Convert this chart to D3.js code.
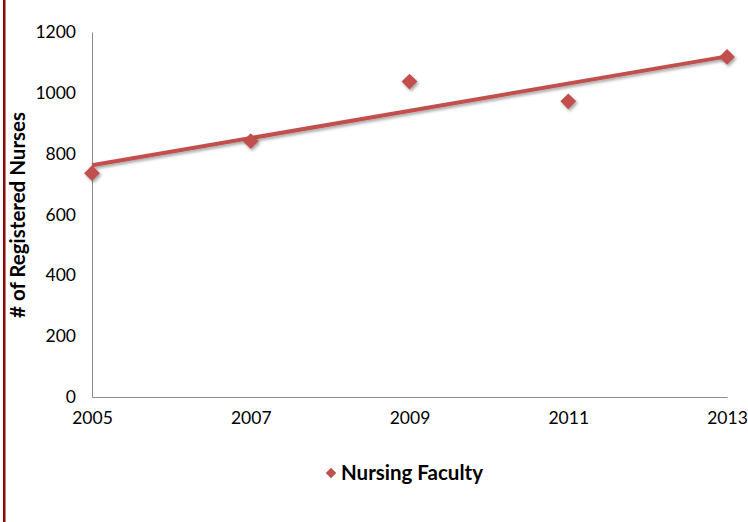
<!DOCTYPE html>
<html><head><meta charset="utf-8">
<script src="https://cdn.jsdelivr.net/npm/d3@7"></script>
<style>body{margin:0;background:#fff;} text{font-family:"Lato","Open Sans",sans-serif;}</style>
</head><body>
<svg id="c" width="748" height="522"></svg>
<script>
const years = [2005, 2007, 2009, 2011, 2013];
const nurses = [736, 841, 1037, 972, 1118];
const yTicks = [0, 200, 400, 600, 800, 1000, 1200];
const xTicks = [2005, 2007, 2009, 2011, 2013];
const seriesName = "Nursing Faculty";
const yTitle = "# of Registered Nurses";

const svg = d3.select("#c");
const color = "#C0504D";
const x = d3.scaleLinear().domain([2005, 2013]).range([92, 727]);
const y = d3.scaleLinear().domain([0, 1200]).range([397, 32]);

// left border
svg.append("rect").attr("x", 3).attr("y", 0).attr("width", 2.5).attr("height", 522).attr("fill", "#8B0A0A");

const defs = svg.append("defs");
const f = defs.append("filter").attr("id", "sh").attr("x", "-50%").attr("y", "-50%").attr("width", "200%").attr("height", "200%");
f.append("feDropShadow").attr("dx", 1.5).attr("dy", 2).attr("stdDeviation", 1.5).attr("flood-color", "#000").attr("flood-opacity", 0.35);

// axes
const yAxis = svg.append("g").attr("transform", "translate(92,0)")
  .call(d3.axisLeft(y).tickValues(yTicks).tickSize(0).tickPadding(16).tickFormat(d3.format("d")));
yAxis.select(".domain").attr("stroke", "#8c8c8c");
yAxis.selectAll("text").attr("font-size", 17.5).attr("fill", "#000");

const xAxis = svg.append("g").attr("transform", "translate(0,397)")
  .call(d3.axisBottom(x).tickValues(xTicks).tickSize(0).tickPadding(15).tickFormat(d3.format("d")));
xAxis.select(".domain").attr("stroke", "#8c8c8c");
xAxis.selectAll("text").attr("font-size", 17.5).attr("fill", "#000");

// trend line (least squares)
const mx = d3.mean(years), my = d3.mean(nurses);
const slope = d3.sum(years, (v, i) => (v - mx) * (nurses[i] - my)) / d3.sum(years, v => (v - mx) ** 2);
const icpt = my - slope * mx;
svg.append("line")
  .attr("x1", x(2005)).attr("y1", y(icpt + slope * 2005))
  .attr("x2", x(2013)).attr("y2", y(icpt + slope * 2013))
  .attr("stroke", color).attr("stroke-width", 4).attr("filter", "url(#sh)");

// points
const diamond = d3.symbol().type(d3.symbolDiamond2).size(160);
svg.selectAll(".pt").data(years).enter().append("path")
  .attr("d", diamond)
  .attr("transform", (d, i) => `translate(${x(d)},${y(nurses[i])})`)
  .attr("fill", color).attr("filter", "url(#sh)");

// y title
svg.append("text").attr("transform", "translate(25,215) rotate(-90)")
  .attr("text-anchor", "middle").attr("font-size", 20.5).attr("font-weight", "bold").text(yTitle);

// legend
svg.append("path").attr("d", d3.symbol().type(d3.symbolDiamond2).size(70))
  .attr("transform", "translate(331,473)").attr("fill", color);
svg.append("text").attr("x", 341).attr("y", 480).attr("font-size", 20.5).attr("font-weight", "bold").text(seriesName);
</script>
</body></html>
